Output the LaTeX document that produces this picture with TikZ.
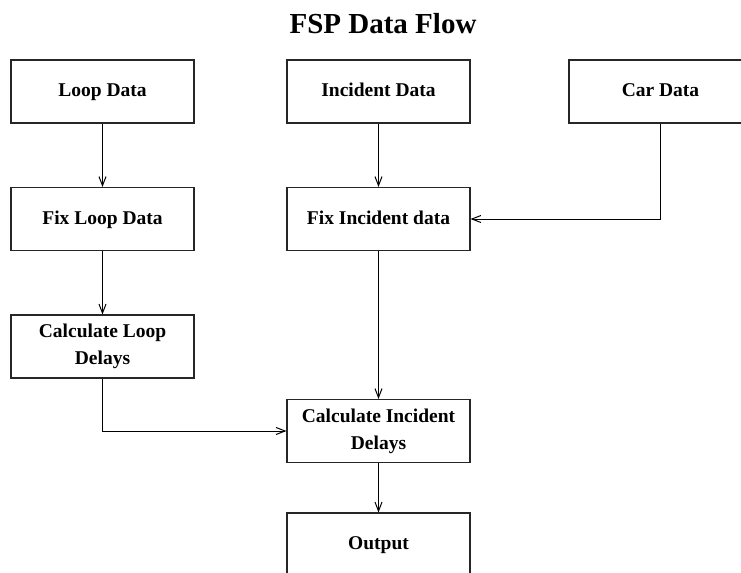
\documentclass[tikz,border=0pt]{standalone}
\usepackage{fontspec}
\setmainfont{Liberation Serif}
\usepackage{tikz}
\usetikzlibrary{arrows.meta}
\tikzset{x=0.5pt, y=-0.5pt,
	flow box/.style={draw=black!85, line width=0.55pt, minimum width=91.5pt,
		minimum height=31.5pt, align=center, inner sep=2pt,
		font=\bfseries\fontsize{9.75}{13.5}\selectfont},
	one line/.style={text height=1.6ex, text depth=0.45ex},
	flow arrow/.style={draw=black, line width=0.5pt,
		-{Straight Barb[length=4.5pt, width=3.5pt]}}
}

\begin{document}
\begin{tikzpicture}
\useasboundingbox (0,0) rectangle (741,573);
\clip (0,0) rectangle (741,573);
\node (Title) [anchor=base, font=\bfseries\fontsize{14.5}{17}\selectfont] at (383,33) {FSP Data Flow};
% left column
\node (LoopData) [flow box, one line] at (102.5,91.5) {Loop Data};
\node (FixLoop) [flow box, one line] at (102.5,219) {Fix Loop Data};
\node (CalcLoop) [flow box] at (102.5,346.5) {Calculate Loop\\Delays};
% middle column
\node (IncData) [flow box, one line] at (378.5,91.5) {Incident Data};
\node (FixInc) [flow box, one line] at (378.5,219) {Fix Incident data};
\node (CalcInc) [flow box] at (378.5,431) {Calculate Incident\\Delays};
\node (Output) [flow box, one line] at (378.5,544.5) {Output};
% right column
\node (CarData) [flow box, one line] at (660.5,91.5) {Car Data};
% connectors
\draw[flow arrow] (LoopData) -- (FixLoop);
\draw[flow arrow] (FixLoop) -- (CalcLoop);
\draw[flow arrow] (IncData) -- (FixInc);
\draw[flow arrow] (FixInc) -- (CalcInc);
\draw[flow arrow] (CalcInc) -- (Output);
\draw[flow arrow] (CarData.south) |- (FixInc.east);
\draw[flow arrow] (CalcLoop.south) |- (CalcInc.west);
\end{tikzpicture}
\end{document}
